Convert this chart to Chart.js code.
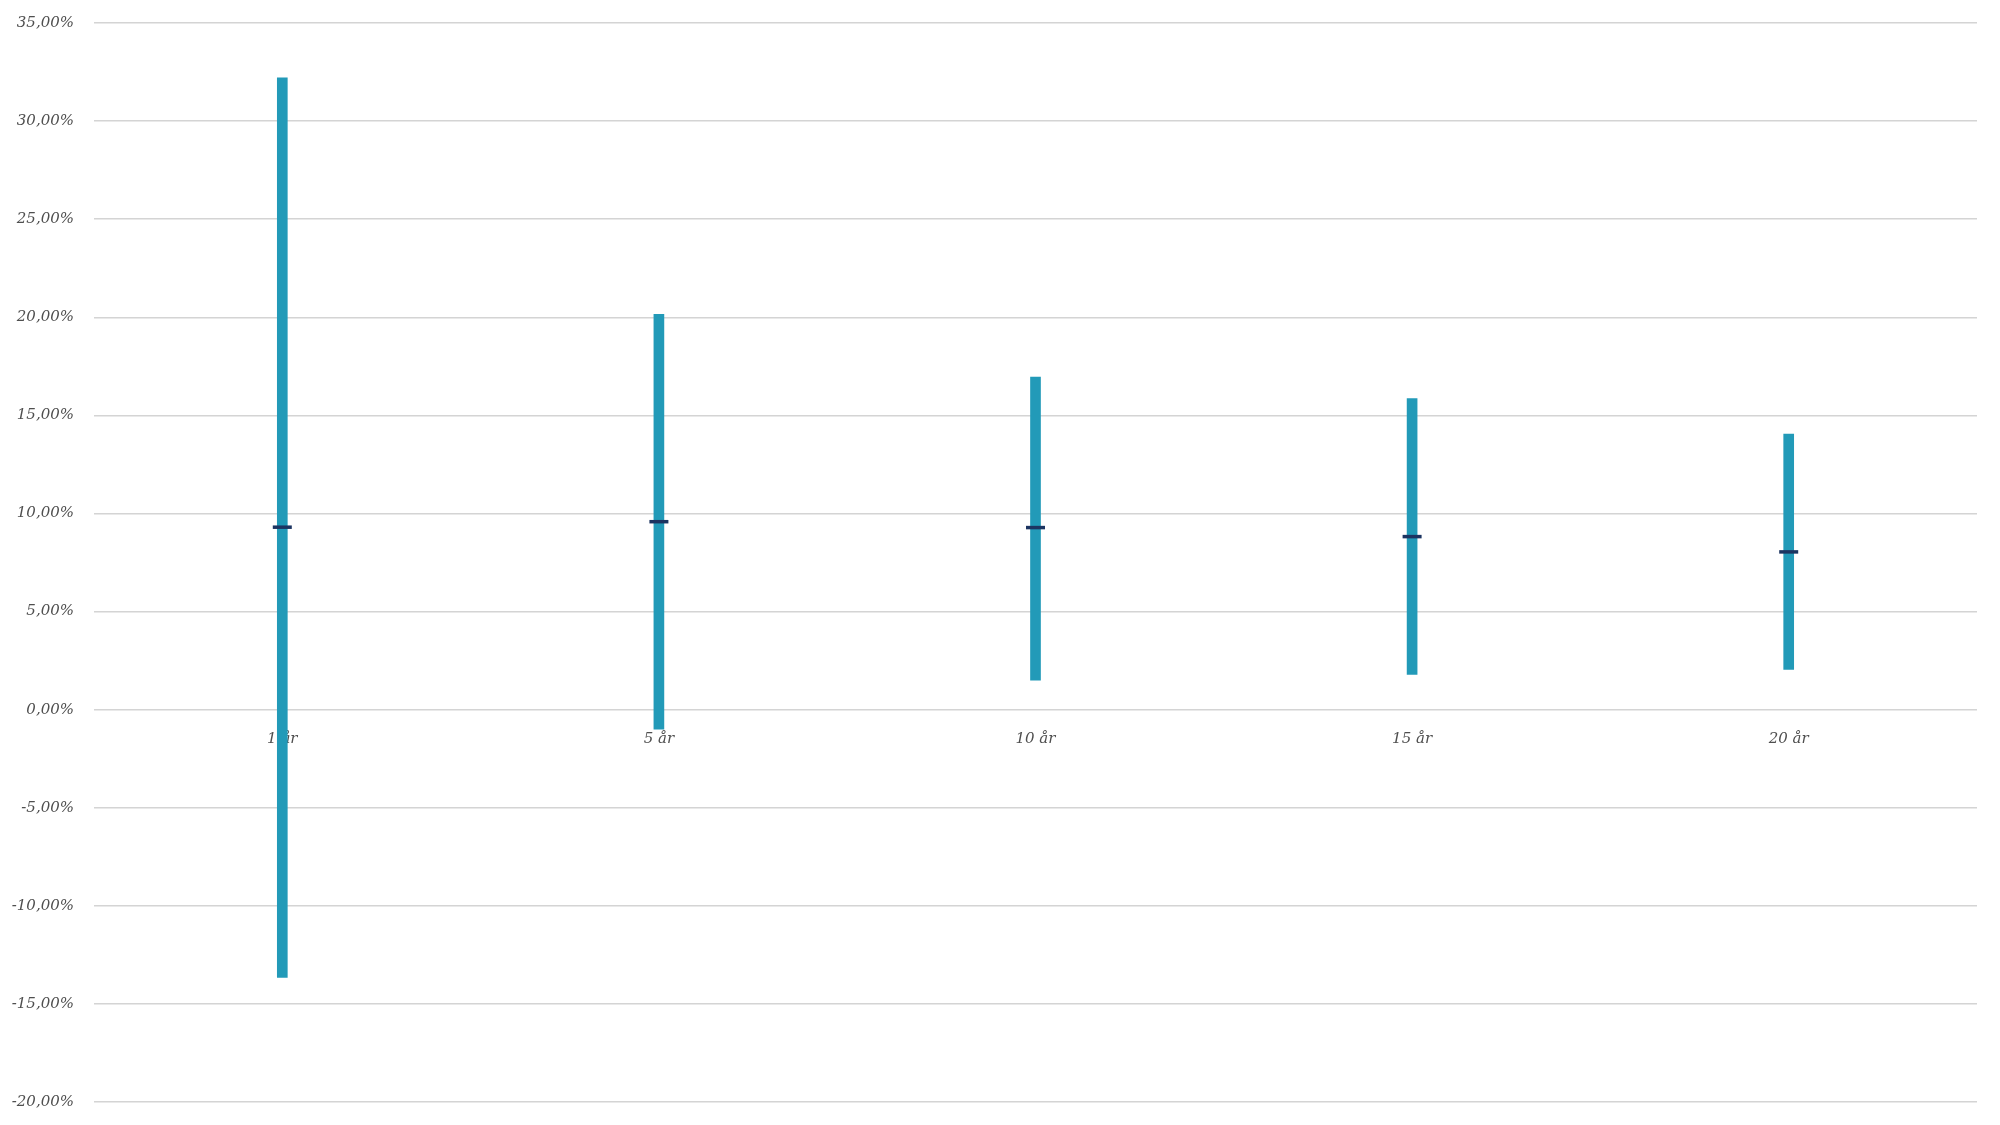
<!DOCTYPE html>
<html>
<head>
<meta charset="utf-8">
<title>Avkastning per tidshorisont</title>
<script src="https://cdn.jsdelivr.net/npm/chart.js@4/dist/chart.umd.min.js"></script>
<style>
    html, body { margin: 0; padding: 0; background: #fff; }
    #chart { display: block; }
</style>
</head>
<body>
<canvas id="chart" width="2000" height="1125"></canvas>
<script>
var horisonter = ['1 år', '5 år', '10 år', '15 år', '20 år'];
var maxAvk = [32.2, 20.15, 16.95, 15.85, 14.05];
var minAvk = [-13.65, -1.0, 1.5, 1.8, 2.05];
var medianAvk = [9.3, 9.58, 9.28, 8.82, 8.04];
var yTicks = [-20, -15, -10, -5, 0, 5, 10, 15, 20, 25, 30, 35];

var spann = [];
for (var i = 0; i < horisonter.length; i++) {
    spann.push([minAvk[i], maxAvk[i]]);
}

var labelFont = {family: '"DejaVu Serif", Georgia, serif', style: 'italic', size: 15};

new Chart(document.getElementById('chart').getContext('2d'), {
    data: {
        labels: horisonter,
        datasets: [
            {
                type: 'line',
                label: 'Median',
                data: medianAvk,
                showLine: false,
                pointStyle: 'line',
                pointRadius: 9.5,
                pointHoverRadius: 9.5,
                pointBorderWidth: 3.5,
                pointBorderColor: '#1c3461',
                pointBackgroundColor: '#1c3461',
                order: 0
            },
            {
                type: 'bar',
                label: 'Spann',
                data: spann,
                backgroundColor: '#229ab8',
                barThickness: 10,
                order: 1
            }
        ]
    },
    options: {
        responsive: false,
        animation: false,
        layout: {padding: {top: 23, bottom: 23, right: 23, left: 0}},
        plugins: {
            legend: {display: false},
            tooltip: {enabled: false}
        },
        scales: {
            x: {
                position: {y: 0},
                grid: {display: false, drawTicks: false},
                border: {display: false},
                ticks: {
                    color: '#4f4f4f',
                    font: labelFont,
                    padding: 20,
                    maxRotation: 0
                }
            },
            y: {
                min: -20,
                max: 35,
                afterBuildTicks: function (scale) {
                    scale.ticks = yTicks.map(function (v) { return {value: v}; });
                },
                afterFit: function (scale) {
                    // fast bredd och ingen extra luft ovan/under
                    scale.width = 94;
                    scale.paddingTop = 0;
                    scale.paddingBottom = 0;
                },
                grid: {color: '#d4d4d4', lineWidth: 1.4, drawTicks: false},
                border: {display: false},
                ticks: {
                    color: '#4f4f4f',
                    font: labelFont,
                    padding: 20,
                    callback: function (v) {
                        return v.toFixed(2).replace('.', ',') + '%';
                    }
                }
            }
        }
    }
});
</script>
</body>
</html>
